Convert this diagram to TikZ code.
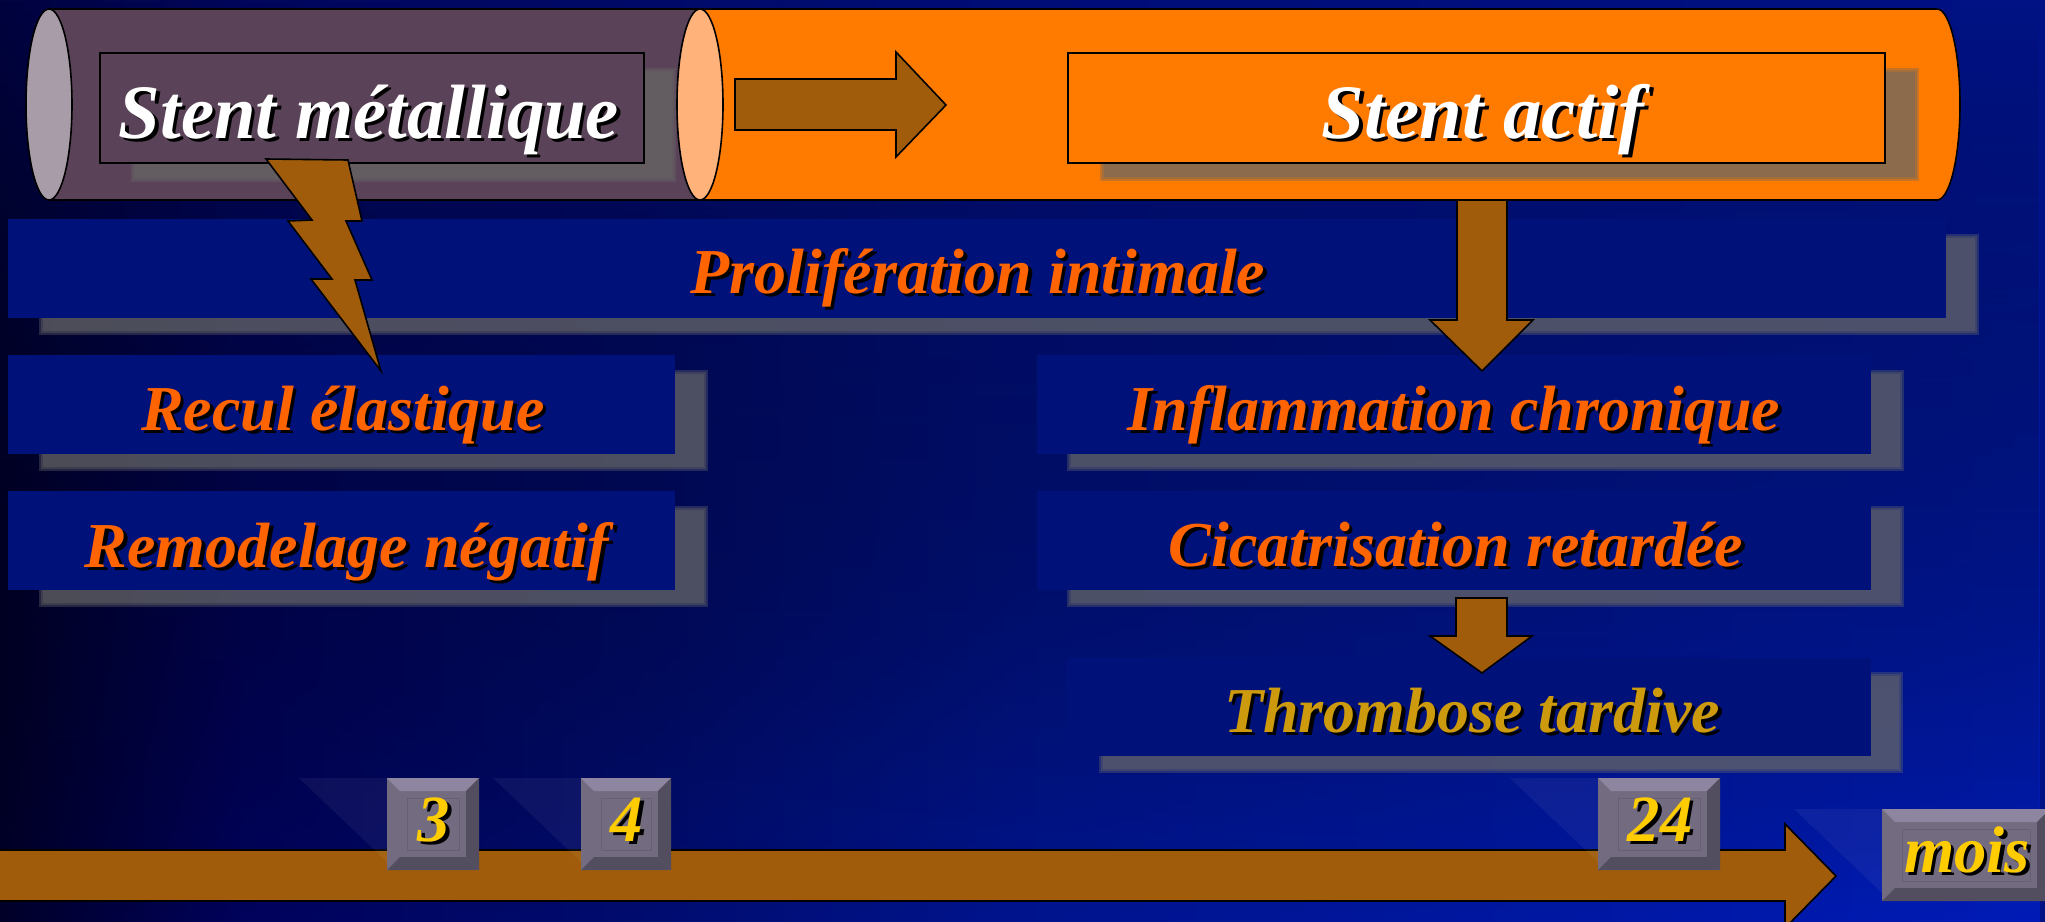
\documentclass[tikz,border=0pt]{standalone}
\usepackage{fontspec}
\setmainfont{Liberation Serif}
\usetikzlibrary{fadings}
\definecolor{tube}{HTML}{5A4358}
\definecolor{tubeend}{HTML}{A89CA8}
\definecolor{actif}{HTML}{FF7B00}
\definecolor{actifend}{HTML}{FFB27A}
\definecolor{bloc}{HTML}{A05C0A}
\definecolor{panel}{HTML}{00127A}
\definecolor{rouille}{HTML}{FF6400}
\definecolor{ocre}{HTML}{CC9A0C}
\definecolor{jaune}{HTML}{FFCC00}
% the slide background, one ramp for the top and one for the bottom
\pgfdeclarehorizontalshading{fondhaut}{100bp}{
  rgb(0bp)=(0,.015,.25); rgb(25bp)=(0,.015,.25);
  rgb(31bp)=(0,.028,.36); rgb(41bp)=(0,.04,.41); rgb(50bp)=(0,.055,.47);
  rgb(75bp)=(0,.07,.52); rgb(100bp)=(0,.07,.52)}
\pgfdeclarehorizontalshading{fondbas}{100bp}{
  rgb(0bp)=(0,0,.16); rgb(25bp)=(0,0,.16);
  rgb(31bp)=(0,.01,.36); rgb(41bp)=(0,.05,.44); rgb(50bp)=(0,.08,.56);
  rgb(60bp)=(0,.09,.62); rgb(75bp)=(0,.11,.72); rgb(100bp)=(0,.11,.72)}
% text with a hard black drop shadow
\newcommand\ombre[1]{\leavevmode\rlap{\kern3.5pt\raisebox{-3.5pt}{\color{black}#1}}#1}
% soft grey shadow of a box
\newcommand\halo[4]{\foreach \d in {0,2,4}
  \fill[gray!60!black!85,opacity=.37](#1+\d,#2+\d)rectangle(#3-\d,#4-\d);}
% bevelled button
\newcommand\bouton[5]{
  \fill[white,opacity=.05](#2-88,#3)--(#2,#3)--(#2,#3+84)--cycle;
  \fill[bevelc](#2,#3)rectangle(#4,#5);
  \fill[bevelt](#2,#3)--(#4,#3)--(#4-13,#3+13)--(#2+13,#3+13)--cycle;
  \fill[bevelr](#4,#3)--(#4,#5)--(#4-13,#5-13)--(#4-13,#3+13)--cycle;
  \fill[bevelr](#2,#5)--(#4,#5)--(#4-13,#5-13)--(#2+13,#5-13)--cycle;
  \draw[bevelr!40!bevelc,line width=1pt](#2+20,#3+20)rectangle(#4-20,#5-20);
  \node[chiffre,xscale=.98](#1)at({(#2+#4)/2+1},#5-29){\ombre{#1}};
}
\definecolor{bevelc}{HTML}{736C80}
\definecolor{bevelt}{HTML}{8E86A0}
\definecolor{bevelr}{HTML}{524E60}
\tikzset{
  titre/.style={anchor=base,inner sep=0,text=white,font=\bfseries\itshape\fontsize{77}{77}\selectfont},
  effet/.style={anchor=base,inner sep=0,text=rouille,font=\bfseries\itshape\fontsize{64}{64}\selectfont},
  chiffre/.style={anchor=base,inner sep=0,text=jaune,font=\bfseries\itshape\fontsize{66}{66}\selectfont},
  blocfleche/.style={fill=bloc,draw=black,line width=1.6pt,line join=miter},
  cadre/.style={draw=black,line width=1.6pt},
}
\begin{document}
\begin{tikzpicture}[x=1pt,y=-1pt]
\useasboundingbox(0,0)rectangle(2045,921);
% background
\fill[shading=fondhaut,shading angle=0](0,0)rectangle(2045,921);
\fill[shading=fondbas,shading angle=0,path fading=north](0,0)rectangle(2045,921);

% boxes of the effects
\foreach \a/\b/\c/\e in {8/219/1946/318, 8/355/675/454, 8/491/675/590}{
  \halo{\a+31}{\b+15}{\c+33}{\e+17}
  \fill[panel](\a,\b)rectangle(\c,\e);
}
\foreach \a/\b/\c/\e in {1037/355/1871/454, 1037/491/1871/590}{
  \halo{\a+30}{\b+15}{\c+33}{\e+17}
  \fill[panel](\a,\b)rectangle(\c,\e);
}
\halo{1099}{672}{1903}{773}
\fill[panel](1067,658)rectangle(1871,756);

% metal and active tubes
\fill[actif,cadre](700,9)--(1937,9)arc(-90:90:23 and 95.5)--(700,200)--cycle;
\fill[tube,cadre](49,9)--(700,9)--(700,200)--(49,200)--cycle;
\fill[tubeend,cadre](49,104.5)ellipse(23 and 95.5);
\halo{131}{68}{676}{182}
\fill[tube,cadre](100,53)rectangle(644,163);
\fill[actifend,cadre](700,104.5)ellipse(23 and 95.5);
\halo{1100}{68}{1919}{181}
\fill[actif,cadre](1068,53)rectangle(1885,163);
\node[titre,xscale=.97](metal)at(369,138){\ombre{Stent métallique}};
\node[titre](actif)at(1483,138){\ombre{Stent actif}};

% block arrows and the bolt
\draw[blocfleche](735,79)--(896,79)--(896,52)--(946,105)--(896,157)--(896,130)--(735,130)--cycle;
\draw[blocfleche](1457,200)--(1507,200)--(1507,320)--(1533,320)--(1482,371)--(1430,320)--(1457,320)--cycle;
\draw[blocfleche](266,159)--(348,160)--(362,221)--(346,221)--(372,280)--(355,280)--(381,371)--(311,279)--(332,279)--(288,221)--(312,220)--cycle;
\draw[blocfleche](1456,598)--(1507,598)--(1507,636)--(1532,636)--(1482,673)--(1430,636)--(1456,636)--cycle;
\draw[blocfleche](-5,850)--(1785,850)--(1785,824)--(1836,876)--(1785,928)--(1785,901)--(-5,901)--cycle;

% labels of the effects
\node[effet](prolif)at(978,293){\ombre{Prolifération intimale}};
\node[effet](recul)at(343,430){\ombre{Recul élastique}};
\node[effet](remod)at(347,567){\ombre{Remodelage négatif}};
\node[effet](inflam)at(1454,430){\ombre{Inflammation chronique}};
\node[effet](cicat)at(1456,566){\ombre{Cicatrisation retardée}};
\node[effet,text=ocre](thromb)at(1472,732){\ombre{Thrombose tardive}};

% time scale
\bouton{3}{387}{778}{479}{870}
\bouton{4}{581}{778}{671}{870}
\bouton{24}{1598}{778}{1720}{870}
\bouton{mois}{1882}{809}{2050}{901}
\end{tikzpicture}
\end{document}
